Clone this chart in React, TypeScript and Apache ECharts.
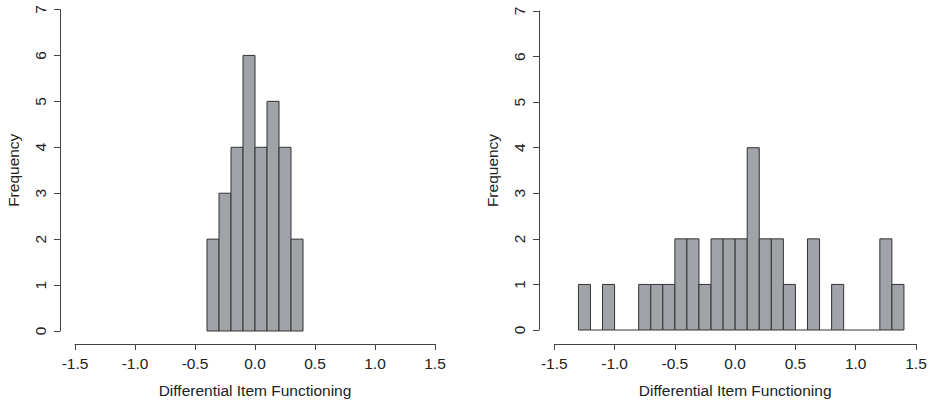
import React, { useEffect, useRef } from "react";
import * as echarts from "echarts";

const binWidth = 0.1;
const leftBinStarts = [-0.4, -0.3, -0.2, -0.1, 0.0, 0.1, 0.2, 0.3];
const leftCounts = [2, 3, 4, 6, 4, 5, 4, 2];
const rightBinStarts = [
  -1.3, -1.2, -1.1, -1.0, -0.9, -0.8, -0.7, -0.6, -0.5, -0.4, -0.3, -0.2, -0.1,
  0.0, 0.1, 0.2, 0.3, 0.4, 0.5, 0.6, 0.7, 0.8, 0.9, 1.0, 1.1, 1.2, 1.3,
];
const rightCounts = [
  1, 0, 1, 0, 0, 1, 1, 1, 2, 2, 1, 2, 2, 2, 4, 2, 2, 1, 0, 2, 0, 1, 0, 0, 0, 2, 1,
];
const xTitle = "Differential Item Functioning";
const yTitle = "Frequency";

const FONT = "'Liberation Sans', Arial, sans-serif";
const TEXT = "#222";
const AXIS = "#444";
const FILL = "#A0A3A8";
const STROKE = "#333";

function toData(starts: number[], counts: number[]) {
  return starts.map((s, i) => [s, s + binWidth, counts[i]]);
}

const renderBin = (params: any, api: any) => {
  const start = api.value(0);
  const end = api.value(1);
  const count = api.value(2);
  const p0 = api.coord([start, count]);
  const p1 = api.coord([end, 0]);
  if (count === 0) {
    return {
      type: "line",
      shape: { x1: p0[0], y1: p1[1], x2: p1[0], y2: p1[1] },
      style: { stroke: STROKE, lineWidth: 1 },
    };
  }
  return {
    type: "rect",
    shape: { x: p0[0], y: p0[1], width: p1[0] - p0[0], height: p1[1] - p0[1] },
    style: { fill: FILL, stroke: STROKE, lineWidth: 1 },
  };
};

function xAxisCfg(gridIndex: number, offset: number) {
  return {
    type: "value",
    gridIndex,
    min: -1.5,
    max: 1.5,
    interval: 0.5,
    offset,
    name: xTitle,
    nameLocation: "middle",
    nameGap: 38,
    nameTextStyle: { fontFamily: FONT, fontSize: 15.5, color: TEXT },
    axisLine: { show: true, onZero: false, lineStyle: { color: AXIS, width: 1 } },
    axisTick: { show: true, length: 6, lineStyle: { color: AXIS } },
    axisLabel: {
      fontFamily: FONT,
      fontSize: 15.5,
      color: TEXT,
      margin: 11,
      formatter: (v: number) => v.toFixed(1),
    },
    splitLine: { show: false },
  };
}

function yAxisCfg(gridIndex: number, offset: number) {
  return {
    type: "value",
    gridIndex,
    min: 0,
    max: 7,
    interval: 1,
    offset,
    name: yTitle,
    nameLocation: "middle",
    nameGap: 39,
    nameTextStyle: { fontFamily: FONT, fontSize: 15.5, color: TEXT },
    axisLine: { show: true, onZero: false, lineStyle: { color: AXIS, width: 1 } },
    axisTick: { show: true, length: 6, lineStyle: { color: AXIS } },
    axisLabel: {
      fontFamily: FONT,
      fontSize: 15.5,
      color: TEXT,
      margin: 12,
      rotate: 90,
    },
    splitLine: { show: false },
  };
}

export default function App() {
  const ref = useRef<HTMLDivElement>(null);
  useEffect(() => {
    if (!ref.current) return;
    const chart = echarts.init(ref.current, undefined, { renderer: "svg" });
    chart.setOption({
      animation: false,
      backgroundColor: "#ffffff",
      grid: [
        { left: 75, top: 9.5, width: 360, height: 321.5 },
        { left: 554.3, top: 11, width: 361.7, height: 322 },
      ],
      xAxis: [xAxisCfg(0, 13), xAxisCfg(1, 14)],
      yAxis: [yAxisCfg(0, 15), yAxisCfg(1, 15.3)],
      series: [
        {
          type: "custom",
          xAxisIndex: 0,
          yAxisIndex: 0,
          renderItem: renderBin,
          data: toData(leftBinStarts, leftCounts),
          encode: { x: [0, 1], y: 2 },
          silent: true,
        },
        {
          type: "custom",
          xAxisIndex: 1,
          yAxisIndex: 1,
          renderItem: renderBin,
          data: toData(rightBinStarts, rightCounts),
          encode: { x: [0, 1], y: 2 },
          silent: true,
        },
      ],
    });
    return () => chart.dispose();
  }, []);
  return (
    <div
      ref={ref}
      style={{ position: "fixed", left: 0, top: 0, width: 930, height: 403 }}
    />
  );
}
